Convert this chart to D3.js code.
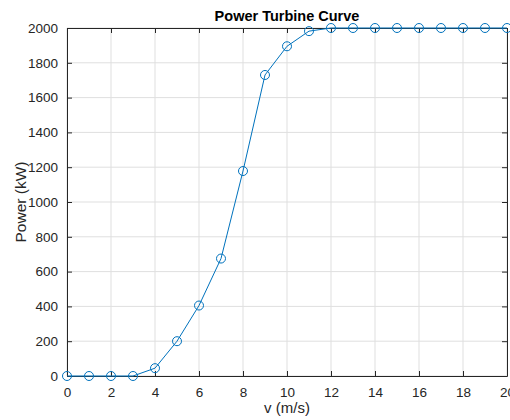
<!DOCTYPE html>
<html>
<head>
<meta charset="utf-8">
<script src="https://cdn.jsdelivr.net/npm/d3@7"></script>
<style>
  body { margin: 0; background: #fff; }
  svg { display: block; font-family: "Liberation Sans", Arial, sans-serif; }
</style>
</head>
<body>
<div id="chart"></div>
<script>
// wind speed (m/s) and turbine output (kW)
var speeds = [0, 1, 2, 3, 4, 5, 6, 7, 8, 9, 10, 11, 12, 13, 14, 15, 16, 17, 18, 19, 20];
var power = [0, 0, 0, 0, 45, 200, 405, 675, 1178, 1730, 1895, 1982, 2000, 2000, 2000, 2000, 2000, 2000, 2000, 2000, 2000];
var xTicks = [0, 2, 4, 6, 8, 10, 12, 14, 16, 18, 20];
var yTicks = [0, 200, 400, 600, 800, 1000, 1200, 1400, 1600, 1800, 2000];

var data = speeds.map(function(v, i) { return { v: v, p: power[i] }; });

var margin = { top: 28, right: 3, bottom: 44, left: 67 };
var width = 510 - margin.left - margin.right;
var height = 420 - margin.top - margin.bottom;

var svg = d3.select('#chart')
    .append('svg')
    .attr('width', 510)
    .attr('height', 420);

var g = svg.append('g')
    .attr('transform', `translate(${margin.left},${margin.top})`);

var xScale = d3.scaleLinear().domain([0, 20]).range([0, width]);
var yScale = d3.scaleLinear().domain([0, 2000]).range([height, 0]);

// grid
g.append('g')
    .selectAll('line')
    .data(xTicks)
    .enter()
    .append('line')
    .attr('x1', d => xScale(d)).attr('x2', d => xScale(d))
    .attr('y1', 0).attr('y2', height)
    .attr('stroke', '#dfdfdf').attr('stroke-width', 1);

g.append('g')
    .selectAll('line')
    .data(yTicks)
    .enter()
    .append('line')
    .attr('x1', 0).attr('x2', width)
    .attr('y1', d => yScale(d)).attr('y2', d => yScale(d))
    .attr('stroke', '#dfdfdf').attr('stroke-width', 1);

// axes (ticks pointing inward, box on all sides)
function styleAxis(sel) {
    sel.select('.domain').attr('stroke', '#262626');
    sel.selectAll('.tick line').attr('stroke', '#262626');
    sel.selectAll('text').attr('fill', '#262626').attr('font-size', '13.5px');
}

var fmt = d3.format('d');

g.append('g')
    .attr('transform', `translate(0,${height})`)
    .call(d3.axisBottom(xScale).tickValues(xTicks).tickFormat(fmt).tickSizeInner(-5).tickSizeOuter(0).tickPadding(11))
    .call(styleAxis);

g.append('g')
    .call(d3.axisLeft(yScale).tickValues(yTicks).tickFormat(fmt).tickSizeInner(-5).tickSizeOuter(0).tickPadding(9))
    .call(styleAxis);

g.append('g')
    .call(d3.axisTop(xScale).tickValues(xTicks).tickSizeInner(-5).tickSizeOuter(0).tickFormat(''))
    .call(styleAxis);

g.append('g')
    .attr('transform', `translate(${width},0)`)
    .call(d3.axisRight(yScale).tickValues(yTicks).tickSizeInner(-5).tickSizeOuter(0).tickFormat(''))
    .call(styleAxis);

g.selectAll('.domain').attr('stroke-width', 1);

// line
var line = d3.line()
    .x(d => xScale(d.v))
    .y(d => yScale(d.p));

g.append('path')
    .datum(data)
    .attr('fill', 'none')
    .attr('stroke', '#0072bd')
    .attr('stroke-width', 1)
    .attr('d', line);

g.selectAll('.marker')
    .data(data)
    .enter()
    .append('circle')
    .attr('class', 'marker')
    .attr('cx', d => xScale(d.v))
    .attr('cy', d => yScale(d.p))
    .attr('r', 4.5)
    .attr('fill', 'none')
    .attr('stroke', '#0072bd')
    .attr('stroke-width', 1);

// labels
svg.append('text')
    .attr('x', margin.left + width / 2)
    .attr('y', 21)
    .attr('text-anchor', 'middle')
    .attr('font-size', '14.5px')
    .attr('font-weight', 'bold')
    .attr('fill', '#000')
    .text('Power Turbine Curve');

svg.append('text')
    .attr('x', margin.left + width / 2)
    .attr('y', 413)
    .attr('text-anchor', 'middle')
    .attr('font-size', '15px')
    .attr('fill', '#262626')
    .text('v (m/s)');

svg.append('text')
    .attr('transform', `translate(26,${margin.top + height / 2}) rotate(-90)`)
    .attr('text-anchor', 'middle')
    .attr('font-size', '15.5px')
    .attr('fill', '#262626')
    .text('Power (kW)');
</script>
</body>
</html>
